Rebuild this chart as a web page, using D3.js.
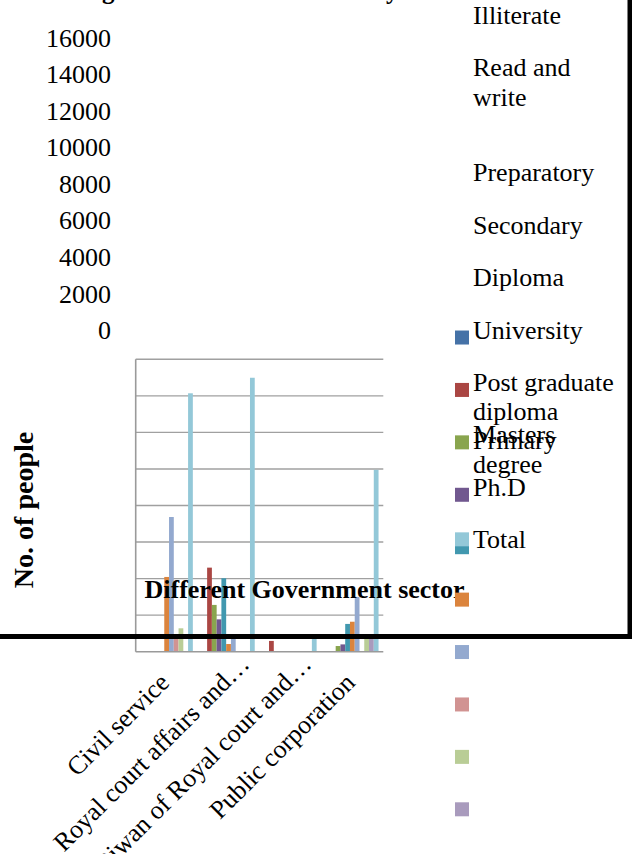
<!DOCTYPE html>
<html>
<head>
<meta charset="utf-8">
<script src="https://cdn.jsdelivr.net/npm/d3@7"></script>
<style>
  body { margin: 0; background: #fff; }
  svg { display: block; font-family: "Liberation Serif", "Times New Roman", serif; }
</style>
</head>
<body>
<div id="chart"></div>
<script>
// sectors on the x axis
const sectors = ["Civil service", "Royal court affairs and\u2026", "Diwan of Royal court and\u2026", "Public corporation"];

// education levels = series
const levels = ["Illiterate", "Read and write", "Primary", "Preparatory", "Secondary", "Diploma",
                "University", "Post graduate diploma", "Masters degree", "Ph.D", "Total"];

// no. of people per level, one value per sector
const illiterate   = [0, 0, 0, 0];
const readWrite    = [0, 4600, 590, 0];
const primary      = [0, 2560, 0, 310];
const preparatory  = [0, 1770, 0, 400];
const secondary    = [0, 4020, 0, 1520];
const diploma      = [4090, 420, 0, 1640];
const university   = [7370, 700, 0, 3000];
const postGraduate = [750, 0, 0, 0];
const masters      = [1280, 0, 0, 950];
const phd          = [0, 0, 0, 800];
const total        = [14140, 14990, 700, 9950];

const yTicks = [0, 2000, 4000, 6000, 8000, 10000, 12000, 14000, 16000];

const chartTitle = "Number of staff according to the educational level by sector";
const xTitle = "Different Government sector";
const yTitle = "No. of people";

const seriesValues = [illiterate, readWrite, primary, preparatory, secondary, diploma,
                      university, postGraduate, masters, phd, total];

// colours (Excel style)
const colors = ["#4572A7", "#AA4643", "#89A54E", "#71588F", "#4198AF", "#DB843D",
                "#93A9CF", "#D19392", "#B9CD96", "#A99BBD", "#93C8D8"];

// legend slots (the legend in the picture is out of step with its swatches)
const labelSlot  = [0, 1, 8.1, 3, 4, 5, 6, 7, 8, 9, 10];
const swatchSlot = [6, 7, 8, 9, 10, 11, 12, 13, 14, 15, 9.85];

const width = 632, height = 854;
const plot = {left: 135.7, right: 383.3, top: 359.3, bottom: 651.7};

const svg = d3.select("#chart").append("svg")
    .attr("width", width)
    .attr("height", height);

// scales
const x0 = d3.scaleBand()
    .domain(sectors)
    .range([plot.left, plot.right]);

const x1 = d3.scaleBand()
    .domain(levels)
    .range([0, x0.bandwidth()])
    .paddingOuter(1);

const y = d3.scaleLinear()
    .domain([0, 16000])
    .range([plot.bottom, plot.top]);

// gridlines
svg.append("g").selectAll("line")
    .data(yTicks.filter(t => t > 0))
    .join("line")
        .attr("x1", plot.left)
        .attr("x2", plot.right)
        .attr("y1", d => y(d))
        .attr("y2", d => y(d))
        .attr("stroke", "#a0a0a0")
        .attr("stroke-width", 1.4);

// bars
const rows = [];
levels.forEach((lvl, i) => {
    sectors.forEach((s, j) => {
        rows.push({level: lvl, sector: s, value: seriesValues[i][j], color: colors[i]});
    });
});

svg.append("g").selectAll("rect")
    .data(rows.filter(d => d.value > 0))
    .join("rect")
        .attr("x", d => x0(d.sector) + x1(d.level))
        .attr("y", d => y(d.value))
        .attr("width", x1.bandwidth())
        .attr("height", d => y(0) - y(d.value))
        .attr("fill", d => d.color);

// axis lines
svg.append("line")
    .attr("x1", plot.left).attr("x2", plot.left)
    .attr("y1", plot.top).attr("y2", plot.bottom)
    .attr("stroke", "#9a9a9a").attr("stroke-width", 1.6);
svg.append("line")
    .attr("x1", plot.left).attr("x2", plot.right)
    .attr("y1", plot.bottom).attr("y2", plot.bottom)
    .attr("stroke", "#9a9a9a").attr("stroke-width", 1.6);

// y tick labels, drawn far above the plot as in the picture
svg.append("g").selectAll("text")
    .data(yTicks)
    .join("text")
        .attr("x", 111)
        .attr("y", d => y(d) - 312.6)
        .attr("text-anchor", "end")
        .attr("font-size", 26)
        .attr("fill", "#000")
        .text(d => d);

// category labels
svg.append("g").selectAll("text")
    .data(sectors)
    .join("text")
        .attr("transform", d => `translate(${x0(d) + x0.bandwidth() / 2 + 4},684) rotate(-45)`)
        .attr("dx", d => d.endsWith("\u2026") ? 26 : 0)
        .attr("text-anchor", "end")
        .attr("font-size", 26)
        .attr("fill", "#000")
        .text(d => d);

// titles
const t = svg.append("text")
    .attr("y", -1)
    .attr("font-size", 25)
    .attr("font-weight", "bold")
    .text(chartTitle);
const gAt = chartTitle.indexOf("ccording") + 7;
t.attr("x", 102 - t.node().getSubStringLength(0, gAt));

svg.append("text")
    .attr("transform", "translate(33,510) rotate(-90)")
    .attr("text-anchor", "middle")
    .attr("font-size", 28)
    .attr("font-weight", "bold")
    .text(yTitle);

svg.append("text")
    .attr("x", 304.5)
    .attr("y", 598)
    .attr("text-anchor", "middle")
    .attr("font-size", 26)
    .attr("font-weight", "bold")
    .text(xTitle);

// legend
const slotY = k => 24 + 52.42 * k;
const legend = svg.append("g");

legend.selectAll("text")
    .data(levels)
    .join("text")
        .attr("font-size", 26)
        .attr("fill", "#000")
        .each(function(d, i) {
            const el = d3.select(this);
            const words = d.split(" ");
            let line = [];
            let lineNo = 0;
            let tspan = el.append("tspan").attr("x", 473).attr("y", slotY(labelSlot[i]));
            words.forEach(w => {
                line.push(w);
                tspan.text(line.join(" "));
                if (tspan.node().getComputedTextLength() > 148 && line.length > 1) {
                    line.pop();
                    tspan.text(line.join(" "));
                    line = [w];
                    lineNo++;
                    tspan = el.append("tspan")
                        .attr("x", 473)
                        .attr("y", slotY(labelSlot[i]) + lineNo * 29.5)
                        .text(w);
                }
            });
        });

legend.selectAll("rect")
    .data(levels)
    .join("rect")
        .attr("x", 455)
        .attr("y", (d, i) => slotY(swatchSlot[i]) - 8)
        .attr("width", 14)
        .attr("height", 14)
        .attr("fill", (d, i) => colors[i]);

// heavy black frame lines at the bottom and the right
svg.append("rect")
    .attr("x", 0).attr("y", 634)
    .attr("width", width).attr("height", 5)
    .attr("fill", "#000");
svg.append("rect")
    .attr("x", 627.5).attr("y", 0)
    .attr("width", 5).attr("height", 639)
    .attr("fill", "#000");
</script>
</body>
</html>
